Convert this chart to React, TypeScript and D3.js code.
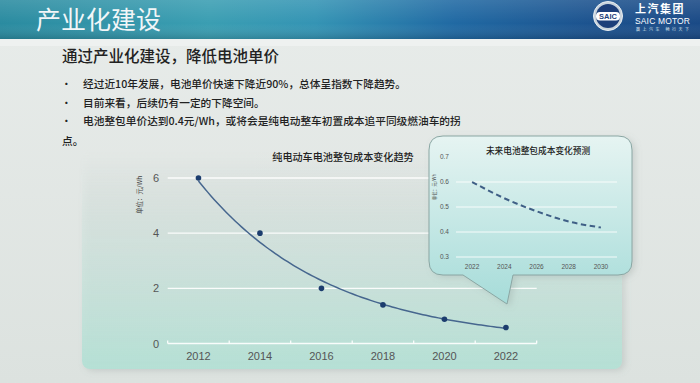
import React from "react";
import * as d3 from "d3";

const years = [2012, 2014, 2016, 2018, 2020, 2022];
const costs = [6, 4, 2, 1.4, 0.88, 0.58];
const yTicks = [0, 2, 4, 6];

const fYears = [2022, 2024, 2026, 2028, 2030];
const fCosts = [0.6, 0.535, 0.483, 0.442, 0.418];
const fTicks = [0.3, 0.4, 0.5, 0.6, 0.7];

const headerTitle = "产业化建设";
const subTitle = "通过产业化建设，降低电池单价";
const bullets = [
  "经过近10年发展，电池单价快速下降近90%，总体呈指数下降趋势。",
  "目前来看，后续仍有一定的下降空间。",
  "电池整包单价达到0.4元/Wh，或将会是纯电动整车初置成本追平同级燃油车的拐",
];
const bulletTail = "点。";
const mainTitle = "纯电动车电池整包成本变化趋势";
const insetTitle = "未来电池整包成本变化预测";
const unitLabel = "单位：元/Wh";

const CJK = "'Noto Sans CJK SC', 'Noto Sans', sans-serif";
const NUM = "'Liberation Sans', Arial, sans-serif";

export default function App() {
  const x = d3.scaleBand<number>().domain(years).range([167.7, 536.7]).padding(0);
  const bw = x.bandwidth();
  const cx = (yr: number) => (x(yr) as number) + bw / 2;
  const y = d3.scaleLinear().domain([0, 6]).range([343.5, 178]);

  // exponential trendline fitted to the data (least squares on log values)
  const ts = years.map((yr) => yr - years[0]);
  const ls = costs.map((c) => Math.log(c));
  const mt = d3.mean(ts) as number;
  const ml = d3.mean(ls) as number;
  const slope =
    (d3.sum(ts.map((t, i) => (t - mt) * (ls[i] - ml))) as number) /
    (d3.sum(ts.map((t) => (t - mt) * (t - mt))) as number);
  const icpt = ml - slope * mt;
  const xc = d3
    .scaleLinear()
    .domain([years[0], years[years.length - 1]])
    .range([cx(years[0]), cx(years[years.length - 1])]);
  const samples = d3.range(0, 101).map((i) => years[0] + (i / 100) * (years[years.length - 1] - years[0]));
  const trend = d3
    .line<number>()
    .x((yr) => xc(yr))
    .y((yr) => y(Math.exp(icpt + slope * (yr - years[0]))))(samples);

  const fx = d3.scaleBand<number>().domain(fYears).range([456, 617]).padding(0);
  const fbw = fx.bandwidth();
  const fcx = (yr: number) => (fx(yr) as number) + fbw / 2;
  const fy = d3.scaleLinear().domain([0.3, 0.7]).range([257, 157]);
  const fLine = d3
    .line<number>()
    .x((_, i) => fcx(fYears[i]))
    .y((v) => fy(v))
    .curve(d3.curveMonotoneX)(fCosts);

  const bx0 = 429, bx1 = 632, by0 = 136, by1 = 275, r = 14;
  const bubble = [
    `M${bx0 + r},${by0}`,
    `H${bx1 - r}`,
    `Q${bx1},${by0} ${bx1},${by0 + r}`,
    `V${by1 - r}`,
    `Q${bx1},${by1} ${bx1 - r},${by1}`,
    `H513`,
    `L507,304`,
    `L463,${by1}`,
    `H${bx0 + r}`,
    `Q${bx0},${by1} ${bx0},${by1 - r}`,
    `V${by0 + r}`,
    `Q${bx0},${by0} ${bx0 + r},${by0}`,
    "Z",
  ].join(" ");

  return (
    <svg
      width={700}
      height={383}
      viewBox="0 0 700 383"
      style={{ position: "absolute", left: 0, top: 0, display: "block" }}
    >
      <defs>
        <linearGradient id="bg" x1="0" y1="0" x2="0" y2="1">
          <stop offset="0" stopColor="#e8ecea" />
          <stop offset="1" stopColor="#dce2df" />
        </linearGradient>
        <linearGradient id="hdr" x1="0" y1="0" x2="1" y2="0">
          <stop offset="0" stopColor="#2a8ba0" />
          <stop offset="0.3" stopColor="#3a9eb2" />
          <stop offset="0.45" stopColor="#3494b4" />
          <stop offset="0.65" stopColor="#2069a3" />
          <stop offset="0.85" stopColor="#1c528e" />
          <stop offset="1" stopColor="#1a4a86" />
        </linearGradient>
        <linearGradient id="hdrShade" x1="0" y1="0" x2="0" y2="1">
          <stop offset="0" stopColor="#ffffff" stopOpacity="0.12" />
          <stop offset="0.6" stopColor="#ffffff" stopOpacity="0" />
          <stop offset="1" stopColor="#000000" stopOpacity="0.15" />
        </linearGradient>
        <linearGradient id="panel" x1="0" y1="0" x2="0" y2="1">
          <stop offset="0" stopColor="#dfe6e3" stopOpacity="0" />
          <stop offset="0.35" stopColor="#d3e3de" stopOpacity="0.7" />
          <stop offset="1" stopColor="#b5e0d5" stopOpacity="1" />
        </linearGradient>
        <linearGradient id="bub" x1="0" y1="0" x2="0" y2="1">
          <stop offset="0" stopColor="#e6f4f2" />
          <stop offset="1" stopColor="#a6dcd9" />
        </linearGradient>
        <filter id="sh" x="-10%" y="-10%" width="120%" height="130%">
          <feDropShadow dx="3" dy="2" stdDeviation="3" floodColor="#7f8c88" floodOpacity="0.25" />
        </filter>
      </defs>

      <rect x={0} y={0} width={700} height={383} fill="url(#bg)" />

      <rect x={0} y={0} width={700} height={39} fill="url(#hdr)" />
      <rect x={0} y={0} width={700} height={39} fill="url(#hdrShade)" />
      <rect x={0} y={39} width={700} height={7} fill="#eef1f0" />
      <text x={36} y={29} fontFamily={CJK} fontSize={25} fill="#f2f6f8">
        {headerTitle}
      </text>
      <g>
        <circle cx={608} cy={16} r={14.5} fill="#c9d3dc" stroke="#e8eef3" strokeWidth={1} />
        <circle cx={608} cy={16} r={12} fill="#1d3f7a" />
        <rect x={596} y={12} width={24} height={8.5} rx={4} fill="#ffffff" />
        <text x={608} y={19.3} textAnchor="middle" fontFamily={NUM} fontWeight="bold" fontSize={7.5} fill="#1d3f7a">
          SAIC
        </text>
        <text x={635} y={13} fontFamily={CJK} fontWeight="bold" fontSize={11} fill="#ffffff" letterSpacing={1.5}>
          上汽集团
        </text>
        <text x={635} y={23.5} fontFamily={NUM} fontSize={8.5} fill="#ffffff" textLength={55}>
          SAIC MOTOR
        </text>
        <text x={636} y={30.5} fontFamily={CJK} fontSize={4} fill="#dfe7ef" textLength={53}>
          赢上汽车 畅行天下
        </text>
      </g>

      <text x={62} y={62} fontFamily={CJK} fontSize={15.5} fill="#222222" fontWeight={500}>
        {subTitle}
      </text>
      {bullets.map((b, i) => (
        <g key={i}>
          <text x={61} y={88 + i * 18.5} fontFamily={CJK} fontSize={10.7} fill="#222">
            •
          </text>
          <text x={83} y={88 + i * 18.5} fontFamily={CJK} fontSize={10.7} fill="#222222" fontWeight={500}>
            {b}
          </text>
        </g>
      ))}
      <text x={62} y={144.5} fontFamily={CJK} fontSize={10.7} fill="#222222" fontWeight={500}>
        {bulletTail}
      </text>

      <rect x={82} y={150} width={540} height={219} rx={8} fill="url(#panel)" filter="url(#sh)" />

      <text x={343} y={161} textAnchor="middle" fontFamily={CJK} fontSize={10.1} fill="#222" fontWeight={500}>
        {mainTitle}
      </text>
      <text
        transform={`translate(142,195) rotate(-90)`}
        textAnchor="middle"
        fontFamily={CJK}
        fontSize={6.5}
        fill="#444"
      >
        {unitLabel}
      </text>

      {yTicks.map((t) => (
        <g key={t}>
          <line
            x1={x.range()[0]}
            x2={x.range()[1]}
            y1={y(t)}
            y2={y(t)}
            stroke="#ffffff"
            strokeWidth={1.4}
            strokeOpacity={0.9}
          />
          <text x={159} y={y(t) + 4} textAnchor="end" fontFamily={NUM} fontSize={11} fill="#555">
            {t}
          </text>
        </g>
      ))}
      {[...years.map((yr) => x(yr) as number), x.range()[1]].map((px, i) => (
        <line key={i} x1={px} x2={px} y1={y(0)} y2={y(0) - 3} stroke="#ffffff" strokeWidth={1.2} />
      ))}
      {years.map((yr) => (
        <text key={yr} x={cx(yr)} y={360} textAnchor="middle" fontFamily={NUM} fontSize={11} fill="#555">
          {yr}
        </text>
      ))}
      <path d={trend || ""} fill="none" stroke="#46668e" strokeWidth={1.5} />
      {years.map((yr, i) => (
        <circle key={yr} cx={cx(yr)} cy={y(costs[i])} r={2.8} fill="#1c3d6e" />
      ))}

      <path d={bubble} fill="url(#bub)" stroke="#8aa6a3" strokeWidth={1} filter="url(#sh)" />
      <text x={538} y={154} textAnchor="middle" fontFamily={CJK} fontSize={8.7} fill="#222" fontWeight={500}>
        {insetTitle}
      </text>
      <text
        transform={`translate(436,187) rotate(-90)`}
        textAnchor="middle"
        fontFamily={CJK}
        fontSize={4.5}
        fill="#444"
      >
        {unitLabel}
      </text>
      {fTicks.map((t) => (
        <g key={t}>
          {t < 0.7 && (
            <line
              x1={fx.range()[0]}
              x2={fx.range()[1]}
              y1={fy(t)}
              y2={fy(t)}
              stroke="#ffffff"
              strokeWidth={1}
              strokeOpacity={0.85}
            />
          )}
          <text x={449} y={fy(t) + 2.3} textAnchor="end" fontFamily={NUM} fontSize={6.5} fill="#555">
            {t.toFixed(1)}
          </text>
        </g>
      ))}
      {fYears.map((yr) => (
        <text key={yr} x={fcx(yr)} y={268.5} textAnchor="middle" fontFamily={NUM} fontSize={6.5} fill="#555">
          {yr}
        </text>
      ))}
      <path d={fLine || ""} fill="none" stroke="#3f5f86" strokeWidth={2} strokeDasharray="5.5,3.5" />
    </svg>
  );
}
